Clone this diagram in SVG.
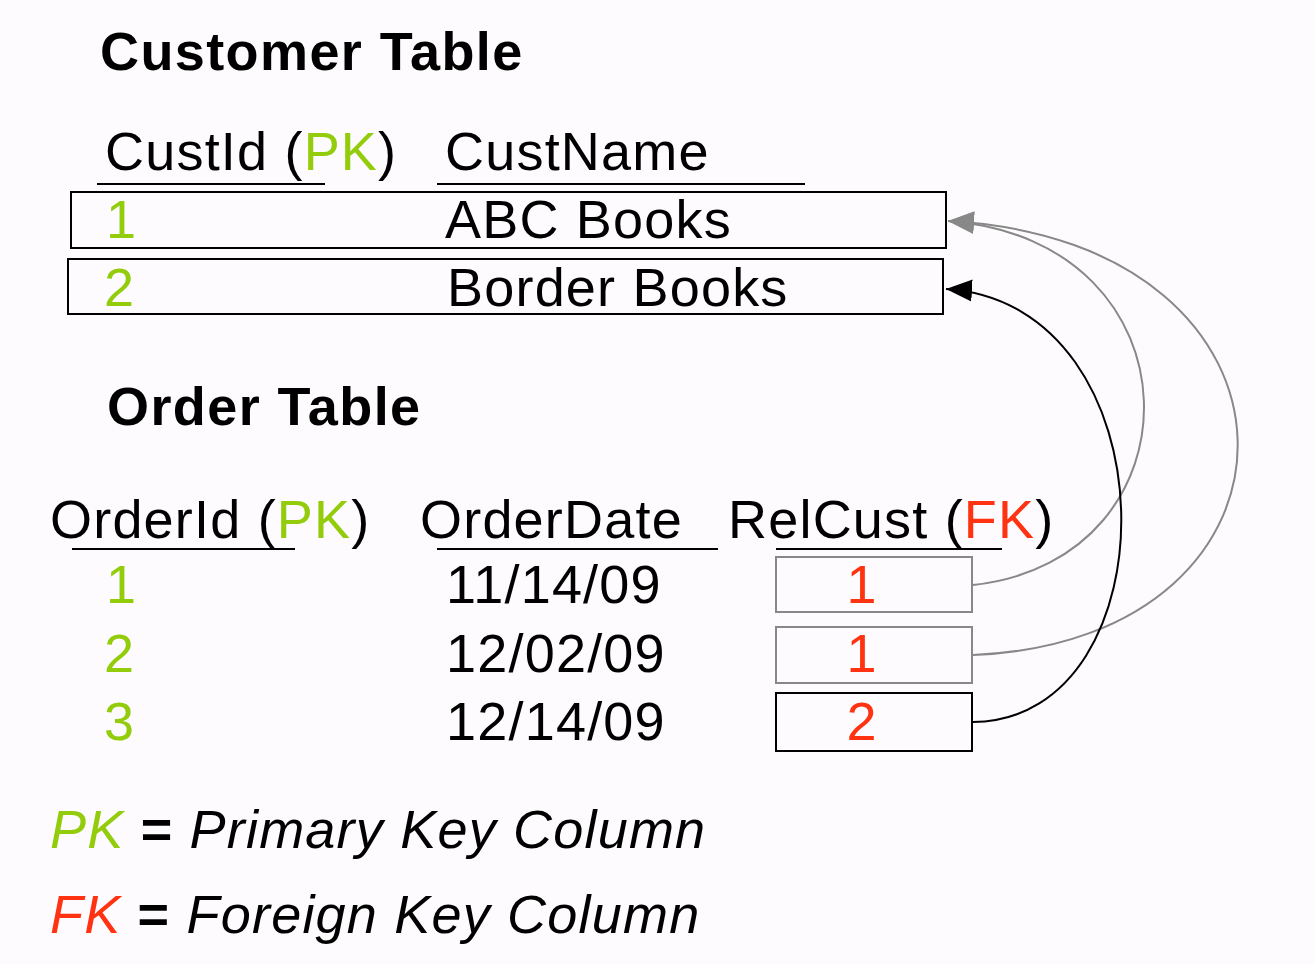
<svg xmlns="http://www.w3.org/2000/svg" width="1314" height="964" viewBox="0 0 1314 964">
<style>
text{font-family:"Liberation Sans",Arial,sans-serif;fill:#000}
.title{font-size:54px;font-weight:bold;letter-spacing:1.4px}
.t{font-size:54px;letter-spacing:1.2px}
.g{fill:#92cc0a}
.r{fill:#ff3311}
.it{font-style:italic}
.ul{stroke:#000;stroke-width:2}
.box{fill:none;stroke:#000;stroke-width:2}
.gbox{fill:none;stroke:#888;stroke-width:2}
.gc{fill:none;stroke:#888;stroke-width:2}
.bc{fill:none;stroke:#000;stroke-width:2}
</style>
<defs>
<marker id="ag" markerWidth="28" markerHeight="24" refX="26" refY="11" orient="auto" markerUnits="userSpaceOnUse"><path d="M0,0 L26,11 L0,22 Z" fill="#888"/></marker>
<marker id="ab" markerWidth="28" markerHeight="24" refX="26" refY="11" orient="auto" markerUnits="userSpaceOnUse"><path d="M0,0 L26,11 L0,22 Z" fill="#000"/></marker>
</defs>
<rect width="1314" height="964" fill="#fdfbfd"/>
<g id="customer-table">
<text class="title" x="100" y="70">Customer Table</text>
<text class="t" x="105" y="170">CustId (<tspan class="g">PK</tspan>)</text>
<text class="t" x="445" y="170">CustName</text>
<line class="ul" x1="97" y1="184" x2="325" y2="184"/>
<line class="ul" x1="437" y1="184" x2="805" y2="184"/>
</g>
<g id="cust-row-1">
<rect class="box" x="71" y="192" width="875" height="56"/>
<text class="t g" x="106" y="238">1</text>
<text class="t" x="445" y="238">ABC Books</text>
</g>
<g id="cust-row-2">
<rect class="box" x="68" y="259" width="875" height="55"/>
<text class="t g" x="104" y="306">2</text>
<text class="t" x="447" y="306">Border Books</text>
</g>
<g id="order-table">
<text class="title" x="107" y="425">Order Table</text>
<text class="t" x="50" y="538">OrderId (<tspan class="g">PK</tspan>)</text>
<text class="t" x="420" y="538">OrderDate</text>
<text class="t" x="728" y="538">RelCust (<tspan class="r">FK</tspan>)</text>
<line class="ul" x1="72" y1="549" x2="295" y2="549"/>
<line class="ul" x1="437" y1="549" x2="718" y2="549"/>
<line class="ul" x1="776" y1="549" x2="1002" y2="549"/>
</g>
<g id="order-row-1">
<text class="t g" x="106" y="603">1</text>
<text class="t" x="446" y="603">11/14/09</text>
<rect class="gbox" x="776" y="557" width="196" height="55"/>
<text class="t r" x="862" y="603" text-anchor="middle">1</text>
</g>
<g id="order-row-2">
<text class="t g" x="104" y="672">2</text>
<text class="t" x="446" y="672">12/02/09</text>
<rect class="gbox" x="776" y="627" width="196" height="56"/>
<text class="t r" x="862" y="672" text-anchor="middle">1</text>
</g>
<g id="order-row-3">
<text class="t g" x="104" y="740">3</text>
<text class="t" x="446" y="740">12/14/09</text>
<rect class="box" x="776" y="693" width="196" height="58"/>
<text class="t r" x="862" y="740" text-anchor="middle">2</text>
</g>
<g id="connectors">
<path class="gc" d="M973,585 C1205,560 1205,240 948,221" marker-end="url(#ag)"/>
<path class="gc" d="M973,655 C1330,640 1330,241 948,221" marker-end="url(#ag)"/>
<path class="bc" d="M973,722 C1175,720 1175,303 946,289" marker-end="url(#ab)"/>
</g>
<g id="legend">
<text class="t it" x="50" y="848"><tspan class="g">PK</tspan> <tspan font-style="normal" font-weight="bold">=</tspan> Primary Key Column</text>
<text class="t it" x="50" y="933"><tspan class="r">FK</tspan> <tspan font-style="normal" font-weight="bold">=</tspan> Foreign Key Column</text>
</g>
</svg>
